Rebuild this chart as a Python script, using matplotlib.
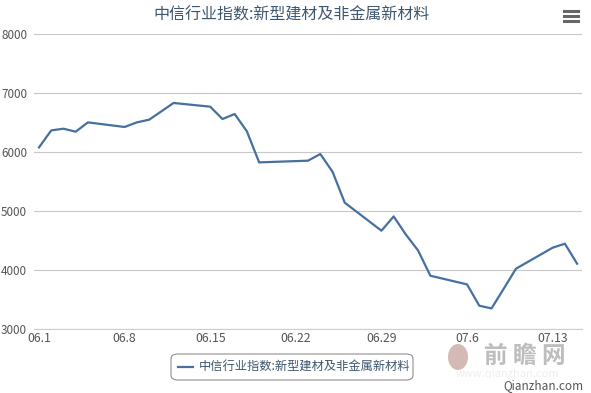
import pandas as pd
import matplotlib
matplotlib.use("Agg")
import matplotlib.pyplot as plt
import matplotlib.dates as mdates
from matplotlib.patches import FancyBboxPatch, Ellipse

plt.rcParams['font.family'] = ['Noto Sans CJK SC', 'DejaVu Sans']

# data (trading days, 2015)
dates = ["06-01", "06-02", "06-03", "06-04", "06-05",
         "06-08", "06-09", "06-10", "06-11", "06-12",
         "06-15", "06-16", "06-17", "06-18", "06-19",
         "06-23", "06-24", "06-25", "06-26",
         "06-29", "06-30", "07-01", "07-02", "07-03",
         "07-06", "07-07", "07-08", "07-09", "07-10",
         "07-13", "07-14", "07-15"]
values = [6078, 6366, 6395, 6344, 6502,
          6424, 6502, 6547, 6688, 6831,
          6768, 6559, 6644, 6349, 5824,
          5853, 5966, 5666, 5141,
          4666, 4908, 4600, 4330, 3903,
          3756, 3395, 3349, 3683, 4022,
          4378, 4446, 4107]
series_name = "中信行业指数:新型建材及非金属新材料"
yticks = [3000, 4000, 5000, 6000, 7000, 8000]
xtick_dates = ["06-01", "06-08", "06-15", "06-22", "06-29", "07-06", "07-13"]

x = pd.to_datetime(["2015-" + d for d in dates])
xt = pd.to_datetime(["2015-" + d for d in xtick_dates])

W, H = 591, 393
fig = plt.figure(figsize=(W / 100, H / 100), dpi=100)
ax = fig.add_axes([34 / W, 1 - 329 / H, (582 - 34) / W, (329 - 34) / H])

line_color = "#45709f"
ax.plot(x, values, color=line_color, linewidth=1.6, solid_joinstyle="round", zorder=3)

ax.set_ylim(3000, 8000)
start = pd.Timestamp("2015-06-01")
ax.set_xlim(mdates.date2num(start) - 0.41, mdates.date2num(start) + 44.4)

ax.set_yticks(yticks)
ax.set_xticks(xt)
ax.set_xticklabels([f"{d.month:02d}.{d.day}" for d in xt])
ax.grid(axis="y", color="#c8c8c8", linewidth=0.8)
ax.set_axisbelow(True)

for s in ["top", "right", "left"]:
    ax.spines[s].set_visible(False)
ax.spines["bottom"].set_color("#c0d0e0")
ax.spines["bottom"].set_linewidth(0.8)

ax.tick_params(axis="both", length=0, colors="#555555")
ax.tick_params(axis="y", pad=5, labelsize=8.4)
ax.tick_params(axis="x", pad=2, labelsize=8.8)

# title
fig.text(292 / W, 1 - 15 / H, series_name, ha="center", va="center",
         fontsize=11.5, color="#3e576f")

# menu icon
for yy in [11, 16, 21]:
    fig.add_artist(plt.Line2D([564 / W, 578 / W], [1 - yy / H, 1 - yy / H],
                              color="#666666", linewidth=2.2))

# legend box
box = FancyBboxPatch((171 / W, 1 - 380 / H), (413 - 171) / W, (380 - 354) / H,
                     boxstyle="round,pad=0,rounding_size=0.012",
                     transform=fig.transFigure, facecolor="white",
                     edgecolor="#909090", linewidth=0.8)
fig.add_artist(box)
fig.add_artist(plt.Line2D([178 / W, 193 / W], [1 - 367 / H, 1 - 367 / H],
                          color=line_color, linewidth=1.6))
fig.text(199 / W, 1 - 367 / H, series_name, ha="left", va="center",
         fontsize=8.8, color="#3e576f")

# watermark
fig.add_artist(Ellipse((458 / W, 1 - 357 / H), 20 / W, 26 / H,
                       transform=fig.transFigure, facecolor="#c9a9a2",
                       edgecolor="none", alpha=0.8))
fig.text(525 / W, 1 - 356 / H, "前 瞻 网", ha="center", va="center",
         fontsize=17, color="#bdbdbd", fontweight="bold")
fig.text(508 / W, 1 - 374 / H, "www.qianzhan.com", ha="center", va="center",
         fontsize=8, color="#eeeeee")
fig.text(583 / W, 1 - 386 / H, "Qianzhan.com", ha="right", va="center",
         fontsize=8.5, color="#555555")

fig.savefig("out.png", dpi=100)
